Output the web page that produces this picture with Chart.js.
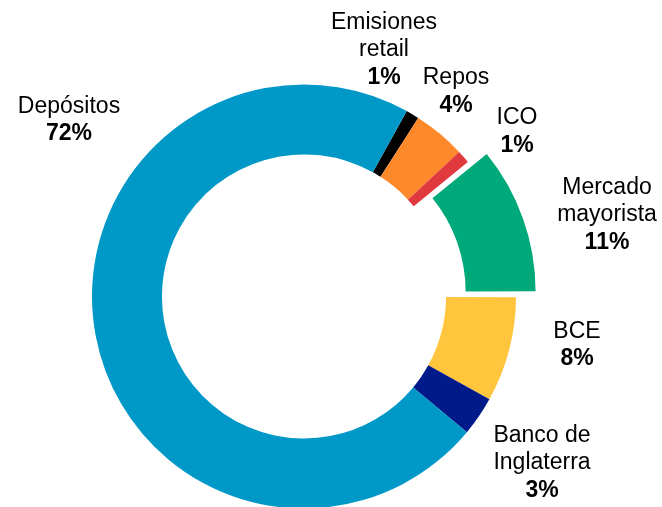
<!DOCTYPE html>
<html>
<head>
<meta charset="utf-8">
<script src="https://cdn.jsdelivr.net/npm/chart.js@4/dist/chart.umd.min.js"></script>
<style>
  html, body { margin: 0; padding: 0; background: #fff; }
  #wrap { width: 662px; height: 507px; position: relative; }
</style>
</head>
<body>
<div id="wrap"><canvas id="chart"></canvas></div>
<script>
// Funding mix — doughnut, clockwise from the top-right
const categories = ['Emisiones retail', 'Repos', 'ICO', 'Mercado mayorista', 'BCE', 'Banco de Inglaterra', 'Depósitos'];
const shares = [1, 4, 1, 11, 8, 3, 72];
const labelLines = [['Emisiones', 'retail'], ['Repos'], ['ICO'], ['Mercado', 'mayorista'], ['BCE'], ['Banco de', 'Inglaterra'], ['Depósitos']];
const sliceColors = ['#000000', '#fd892b', '#e0393e', '#00a97a', '#ffc53d', '#001a8a', '#0098c7'];
const sliceOffsets = [0, 0, 0, 60, 0, 0, 0];

// label anchors: x centre and baseline of the bold % line, relative to the ring centre
const labelAnchors = [[80, -213], [152, -185], [213, -145], [303, -48], [273, 68.5], [238, 200], [-235, -156.5]];
const lineGap = 27.5;

const labelPlugin = {
  id: 'sliceLabels',
  afterDraw(chart) {
    const arc = chart.getDatasetMeta(0).data[0];
    const ctx = chart.ctx;
    ctx.save();
    ctx.fillStyle = '#000';
    ctx.textAlign = 'center';
    ctx.textBaseline = 'alphabetic';
    categories.forEach((c, i) => {
      const x = arc.x + labelAnchors[i][0];
      const yLast = arc.y + labelAnchors[i][1];
      const lines = labelLines[i];
      ctx.font = '23px "Liberation Sans", Arial, sans-serif';
      lines.forEach((t, j) => {
        ctx.fillText(t, x, yLast - (lines.length - j) * lineGap);
      });
      ctx.font = 'bold 23px "Liberation Sans", Arial, sans-serif';
      ctx.fillText(shares[i] + '%', x, yLast);
    });
    ctx.restore();
  }
};

new Chart(document.getElementById('chart'), {
  type: 'doughnut',
  data: {
    labels: categories,
    datasets: [{
      data: shares,
      backgroundColor: sliceColors,
      borderWidth: 0,
      offset: sliceOffsets,
      clip: false
    }]
  },
  options: {
    responsive: true,
    maintainAspectRatio: false,
    animation: false,
    rotation: 29,
    radius: 212,
    cutout: '67%',
    layout: { padding: { left: 0, right: 54, top: 86, bottom: 0 } },
    plugins: { legend: { display: false }, tooltip: { enabled: false } },
    events: []
  },
  plugins: [labelPlugin]
});
</script>
</body>
</html>
